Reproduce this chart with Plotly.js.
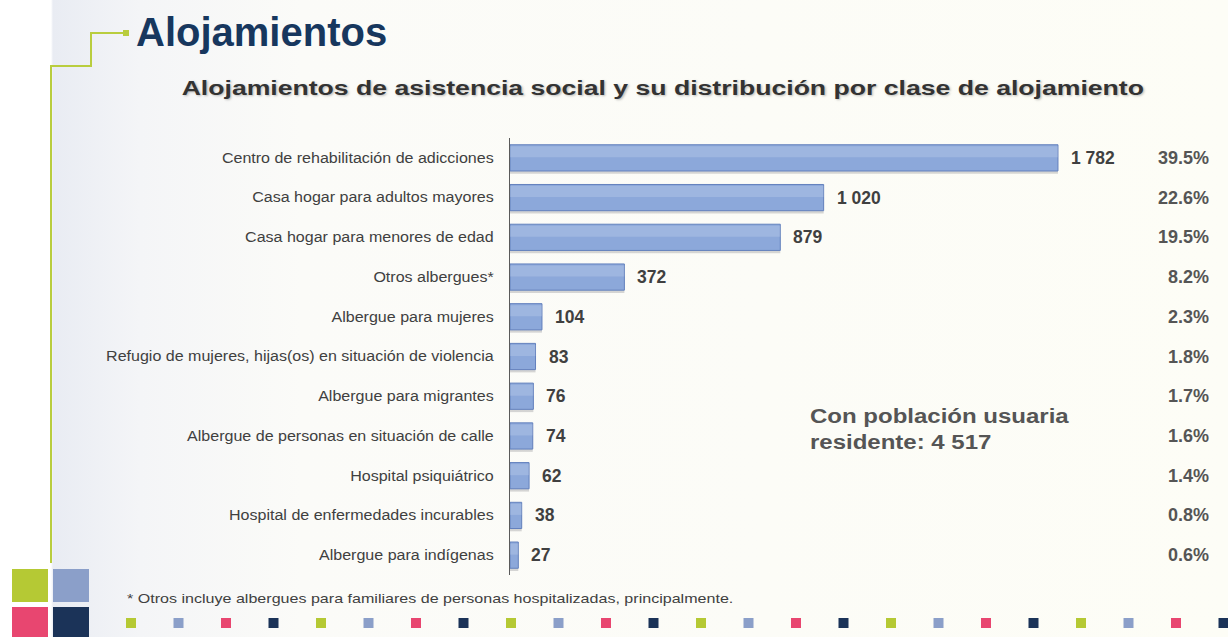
<!DOCTYPE html>
<html>
<head>
<meta charset="utf-8">
<script src="https://cdn.plot.ly/plotly-3.0.1.min.js"></script>
<style>
  html, body { margin:0; padding:0; width:1228px; height:637px; overflow:hidden; }
  body { background: linear-gradient(to right, #ffffff 0px, #ffffff 51px, #e9ecf3 53px, #f4f5f7 140px, #fbfbf8 300px, #fdfdf6 100%); }
  #chart { width:1228px; height:637px; }
</style>
</head>
<body>
<div id="chart"></div>
<script>
const categories = [
  "Centro de rehabilitación de adicciones",
  "Casa hogar para adultos mayores",
  "Casa hogar para menores de edad",
  "Otros albergues*",
  "Albergue para mujeres",
  "Refugio de mujeres, hijas(os) en situación de violencia",
  "Albergue para migrantes",
  "Albergue de personas en situación de calle",
  "Hospital psiquiátrico",
  "Hospital de enfermedades incurables",
  "Albergue para indígenas"
];
const values = [1782, 1020, 879, 372, 104, 83, 76, 74, 62, 38, 27];
const percents = ["39.5%", "22.6%", "19.5%", "8.2%", "2.3%", "1.8%", "1.7%", "1.6%", "1.4%", "0.8%", "0.6%"];
const totalLines = ["Con población usuaria", "residente: 4 517"];
const mainTitle = "Alojamientos";
const subTitle = "Alojamientos de asistencia social y su distribución por clase de alojamiento";
const footnote = "* Otros incluye albergues para familiares de personas hospitalizadas, principalmente.";

const W = 1228, H = 637;
const M = {l: 510, r: 103, t: 138, b: 62};
const PW = W - M.l - M.r, PH = H - M.t - M.b;
const px = x => (x - M.l) / PW;
const py = y => (H - M.b - y) / PH;

function fmt(v) { return String(v).replace(/\B(?=(\d{3})+(?!\d))/g, ' '); }

const font = "Liberation Sans, Arial, sans-serif";
const BW = 0.66;

const shadow = {
  type: 'bar', orientation: 'h', x: values, y: categories,
  width: BW, offset: -BW / 2 + 0.07,
  marker: { color: 'rgba(60,60,70,0.2)', line: { width: 0 } },
  hoverinfo: 'none'
};
const bars = {
  type: 'bar', orientation: 'h', x: values, y: categories,
  width: BW, offset: -BW / 2,
  marker: { color: '#8ca8da', line: { color: '#6381bd', width: 1 } },
  hoverinfo: 'none'
};
const highlight = {
  type: 'bar', orientation: 'h', x: values, y: categories,
  width: BW * 0.42, offset: -BW / 2 + 0.04,
  marker: { color: 'rgba(255,255,255,0.16)', line: { width: 0 } },
  hoverinfo: 'none'
};

const annotations = [];
const stretch = [];
categories.forEach((c, i) => {
  annotations.push({
    x: values[i], y: c, xref: 'x', yref: 'y', text: fmt(values[i]),
    showarrow: false, xanchor: 'left', xshift: 11,
    font: { family: font, size: 17.5, color: '#404040', weight: 'bold' }
  });
  annotations.push({
    x: px(1211), y: c, xref: 'paper', yref: 'y', text: percents[i],
    showarrow: false, xanchor: 'right',
    font: { family: font, size: 18, color: '#555555', weight: 'bold' }
  });
});
totalLines.forEach((t, i) => {
  stretch.push([annotations.length, 1.2]);
  annotations.push({
    x: px(808), y: py(416 + i * 26), xref: 'paper', yref: 'paper', text: t,
    showarrow: false, xanchor: 'left', yanchor: 'middle', align: 'left',
    font: { family: font, size: 20, color: '#555555', weight: 'bold' }
  });
});
annotations.push({
  x: px(134), y: py(32), xref: 'paper', yref: 'paper', text: mainTitle,
  showarrow: false, xanchor: 'left', yanchor: 'middle',
  font: { family: font, size: 40, color: '#17375e', weight: 'bold' }
});
stretch.push([annotations.length, 1.33]);
annotations.push({
  x: px(663), y: py(88), xref: 'paper', yref: 'paper', text: subTitle,
  showarrow: false, xanchor: 'center', yanchor: 'middle',
  font: { family: font, size: 20, color: '#333333', weight: 'bold', shadow: '1px 1px 2px rgba(0,0,0,0.25)' }
});
stretch.push([annotations.length, 1.19]);
annotations.push({
  x: px(125), y: py(598), xref: 'paper', yref: 'paper', text: footnote,
  showarrow: false, xanchor: 'left', yanchor: 'middle', align: 'left',
  font: { family: font, size: 13.5, color: '#404040' }
});

const shapes = [];
shapes.push({
  type: 'path', xref: 'paper', yref: 'paper', layer: 'below',
  path: `M ${px(51)} ${py(563)} L ${px(51)} ${py(66)} L ${px(91)} ${py(66)} L ${px(91)} ${py(33)} L ${px(124)} ${py(33)}`,
  line: { color: '#b9cd3e', width: 2 }
});
shapes.push({
  type: 'rect', xref: 'paper', yref: 'paper', layer: 'below',
  x0: px(123), x1: px(129), y0: py(30), y1: py(36),
  fillcolor: '#b9cd3e', line: { width: 0 }
});
const deco = ['#b5c934', '#8b9fc9', '#e84670', '#1b3358'];
const corner = [[12, 569, 48, 602], [53, 569, 89, 602], [12, 607, 48, 640], [53, 607, 89, 640]];
corner.forEach((r, i) => shapes.push({
  type: 'rect', xref: 'paper', yref: 'paper', layer: 'below',
  x0: px(r[0]), x1: px(r[2]), y0: py(r[1]), y1: py(r[3]),
  fillcolor: deco[i], line: { width: 0 }
}));
for (let k = 0; k < 24; k++) {
  const cx = 131 + k * 47.5;
  shapes.push({
    type: 'rect', xref: 'paper', yref: 'paper', layer: 'below',
    x0: px(cx - 5), x1: px(cx + 5), y0: py(618), y1: py(628),
    fillcolor: deco[k % 4], line: { width: 0 }
  });
}

const layout = {
  width: W, height: H,
  margin: M,
  paper_bgcolor: 'rgba(0,0,0,0)',
  plot_bgcolor: 'rgba(0,0,0,0)',
  barmode: 'overlay',
  showlegend: false,
  xaxis: { range: [0, 2000], visible: false, fixedrange: true },
  yaxis: {
    type: 'category', categoryorder: 'array', categoryarray: categories,
    autorange: 'reversed', showline: true, linecolor: '#5a5a5a', linewidth: 1.5,
    showgrid: false, zeroline: false, ticks: '', ticklabelstandoff: 12,
    tickfont: { family: font, size: 14, color: '#404040' }, fixedrange: true
  },
  annotations: annotations,
  shapes: shapes
};

function stretchText(el, factor) {
  const w = el.getComputedTextLength();
  el.setAttribute('textLength', (w * factor).toFixed(1));
  el.setAttribute('lengthAdjust', 'spacingAndGlyphs');
}

Plotly.newPlot('chart', [shadow, bars, highlight], layout, { displayModeBar: false, staticPlot: true }).then(gd => {
  document.querySelectorAll('.ytick text').forEach(t => stretchText(t, 1.145));
  const anns = document.querySelectorAll('.annotation');
  stretch.forEach(([idx, f]) => {
    const a = anns[idx];
    if (!a) return;
    const t = a.querySelector('text.annotation-text');
    if (t) stretchText(t, f);
  });
});
</script>
</body>
</html>
